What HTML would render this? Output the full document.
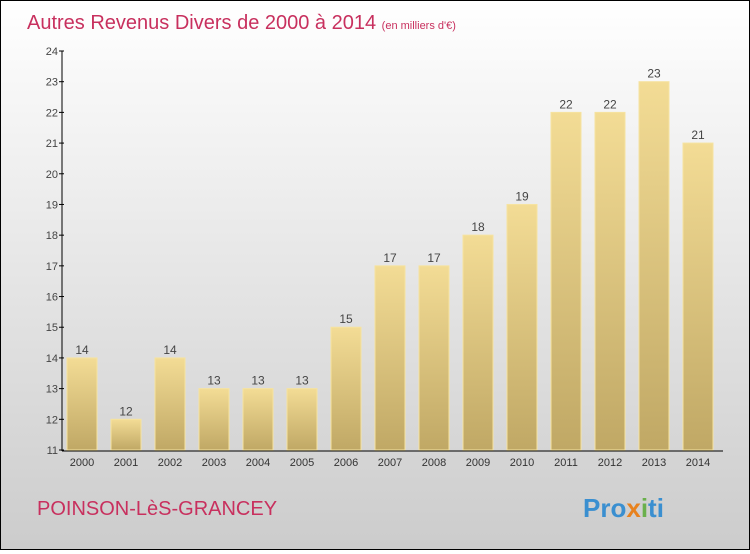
<!DOCTYPE html>
<html><head><meta charset="utf-8"><style>
body{margin:0}
#c{width:748px;height:548px;border:1px solid #000;background:linear-gradient(#fff,#ccc);position:relative;font-family:"Liberation Sans",sans-serif}
</style></head><body>
<div id="c">
<svg id="s" width="748" height="548" xmlns="http://www.w3.org/2000/svg">
<defs><linearGradient id="g" x1="0" y1="0" x2="0" y2="1"><stop offset="0" stop-color="#f3dc95"/><stop offset="1" stop-color="#c0a865"/></linearGradient></defs>
<text x="26" y="28" font-size="20" fill="#c8305e">Autres Revenus Divers de 2000 à 2014 <tspan font-size="11">(en milliers d'€)</tspan></text>
<text x="36" y="514" font-size="20" fill="#c8305e">POINSON-LèS-GRANCEY</text>
<text x="582" y="516" font-size="26" font-weight="bold" fill="#3a8fd0">Pro<tspan fill="#e8821e">x</tspan><tspan fill="#6ab04c">i</tspan><tspan fill="#3a8fd0">ti</tspan></text>
<g id="plot"></g>
</svg>
</div>
<script>
const years=["2000","2001","2002","2003","2004","2005","2006","2007","2008","2009","2010","2011","2012","2013","2014"];
const values=[14,12,14,13,13,13,15,17,17,18,19,22,22,23,21];
const yTicks=[11,12,13,14,15,16,17,18,19,20,21,22,23,24];
const NS="http://www.w3.org/2000/svg";
const p=document.getElementById('plot');
const y=v=>449-(v-11)*(449-50)/13;
const x=i=>66+i*44;
function mk(t,a){const e=document.createElementNS(NS,t);for(const k in a)e.setAttribute(k,a[k]);p.appendChild(e);return e;}
values.forEach((v,i)=>{
 const r=mk('rect',{x:x(i),y:y(v),width:30,height:y(11)-y(v),fill:'url(#g)',stroke:'#f6e3a0','stroke-width':1});
 
 
 const t=mk('text',{x:x(i)+15,y:y(v)-4,'font-size':12,'text-anchor':'middle',fill:'#444'});t.textContent=v;
 
 
 const xl=mk('text',{x:x(i)+15,y:465,'font-size':11,'text-anchor':'middle',fill:'#333'});xl.textContent=years[i];
 
 
});
yTicks.forEach(v=>{
 mk('line',{x1:58,x2:63,y1:y(v),y2:y(v),stroke:'#000'});
 const t=mk('text',{x:57,y:y(v)+4,'font-size':11,'text-anchor':'end',fill:'#444'});t.textContent=v;
 
 
});
const ya=mk('line',{x1:61,x2:61,y1:50,y2:450,stroke:'#000'});


const xa=mk('line',{x1:61,x2:722,y1:450,y2:450,stroke:'#000'});


</script>
</body></html>
